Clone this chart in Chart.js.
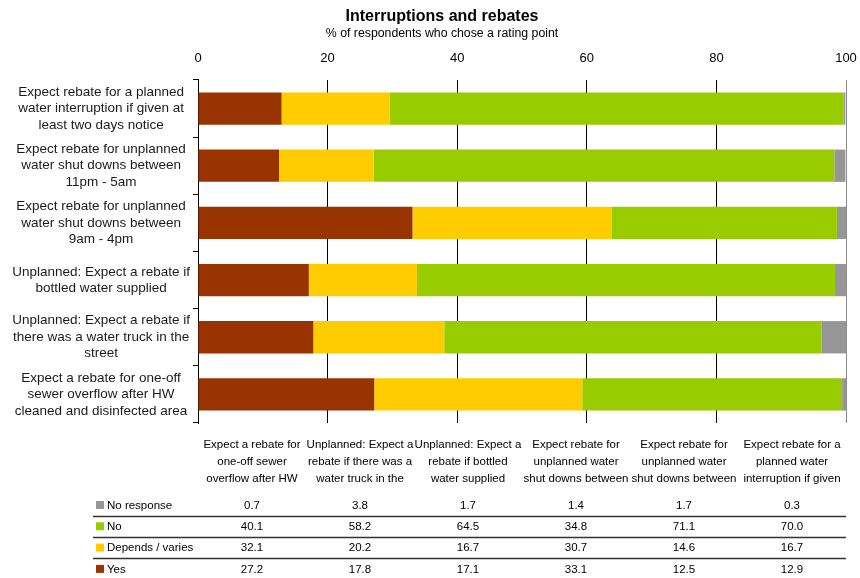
<!DOCTYPE html>
<html><head><meta charset="utf-8">
<script src="https://cdn.jsdelivr.net/npm/chart.js@4.4.1/dist/chart.umd.min.js"></script>
<style>html,body{margin:0;padding:0;background:#fff}#wrap{width:860px;height:578px;position:relative}</style>
</head><body><div id="wrap"><canvas id="c" width="860" height="578"></canvas></div>
<script>
// Categories (table / data order; the y axis is reversed so the first one sits at the bottom)
const categories = [
  ['Expect a rebate for one-off', 'sewer overflow after HW', 'cleaned and disinfected area'],
  ['Unplanned: Expect a rebate if', 'there was a water truck in the', 'street'],
  ['Unplanned: Expect a rebate if', 'bottled water supplied'],
  ['Expect rebate for unplanned', 'water shut downs between', '9am - 4pm'],
  ['Expect rebate for unplanned', 'water shut downs between', '11pm - 5am'],
  ['Expect rebate for a planned', 'water interruption if given at', 'least two days notice']
];
// Column headers of the data table (truncated to three lines as in the original)
const tableHeaders = [
  ['Expect a rebate for', 'one-off sewer', 'overflow after HW'],
  ['Unplanned: Expect a', 'rebate if there was a', 'water truck in the'],
  ['Unplanned: Expect a', 'rebate if bottled', 'water supplied'],
  ['Expect rebate for', 'unplanned water', 'shut downs between'],
  ['Expect rebate for', 'unplanned water', 'shut downs between'],
  ['Expect rebate for a', 'planned water', 'interruption if given']
];
const yesValues        = [27.2, 17.8, 17.1, 33.1, 12.5, 12.9];
const dependsValues    = [32.1, 20.2, 16.7, 30.7, 14.6, 16.7];
const noValues         = [40.1, 58.2, 64.5, 34.8, 71.1, 70.0];
const noResponseValues = [0.7, 3.8, 1.7, 1.4, 1.7, 0.3];
const seriesNames = ['Yes', 'Depends / varies', 'No', 'No response'];
const xTickValues = [0, 20, 40, 60, 80, 100];

const FONT = "'Liberation Sans', Arial, sans-serif";
const COLORS = ['#993300', '#FFCC00', '#99CC00', '#969696'];

// shift the title / subtitle blocks slightly right, as in the original
const titleShift = {
  id: 'titleShift',
  afterLayout(chart) {
    chart.boxes.forEach(b => {
      if (b.options && typeof b.options.text === 'string' && b.isHorizontal && b.isHorizontal()) {
        b.left += 27;
      }
    });
  }
};

const tablePlugin = {
  id: 'dataTable',
  afterDraw(chart) {
    const c = chart.ctx, a = chart.chartArea;
    const n = chart.data.labels.length;
    const colW = (a.right - a.left) / n;
    c.save();
    c.fillStyle = '#000';
    c.font = '11.5px ' + FONT;
    c.textAlign = 'center';
    c.textBaseline = 'middle';
    tableHeaders.forEach((lines, i) => {
      const x = a.left + (i + 0.5) * colW;
      lines.forEach((t, j) => c.fillText(t, x, a.bottom + 22 + j * 17));
    });
    const rows = chart.data.datasets.map((d, i) => ({ d, i })).reverse();
    const rowTop = a.bottom + 82, pitch = 21.3;
    rows.forEach((r, k) => {
      const y = rowTop + k * pitch;
      c.fillStyle = r.d.backgroundColor;
      c.fillRect(96, y - 4, 8, 8);
      c.fillStyle = '#000';
      c.textAlign = 'left';
      c.fillText(r.d.label, 107, y + 0.5);
      c.textAlign = 'center';
      r.d.data.forEach((v, i) => {
        c.fillText(v.toFixed(1), a.left + (i + 0.5) * colW, y + 0.5);
      });
      if (k < rows.length - 1) {
        const ly = Math.round(y + pitch / 2) + 0.5;
        c.strokeStyle = '#333';
        c.lineWidth = 1.5;
        c.beginPath();
        c.moveTo(93, ly);
        c.lineTo(a.right, ly);
        c.stroke();
      }
    });
    c.restore();
  }
};

new Chart(document.getElementById('c').getContext('2d'), {
  type: 'bar',
  data: {
    labels: categories,
    datasets: [
      { label: seriesNames[0], data: yesValues, backgroundColor: COLORS[0] },
      { label: seriesNames[1], data: dependsValues, backgroundColor: COLORS[1] },
      { label: seriesNames[2], data: noValues, backgroundColor: COLORS[2] },
      { label: seriesNames[3], data: noResponseValues, backgroundColor: COLORS[3] }
    ]
  },
  options: {
    indexAxis: 'y',
    responsive: false,
    animation: false,
    datasets: { bar: { barPercentage: 1, categoryPercentage: 0.565, borderWidth: 0 } },
    layout: { padding: { left: 0, right: 3, top: 0, bottom: 155 } },
    plugins: {
      legend: { display: false },
      tooltip: { enabled: false },
      title: {
        display: true, text: 'Interruptions and rebates', color: '#000',
        font: { family: FONT, size: 16, weight: 'bold' }, padding: { top: 7, bottom: 0 }
      },
      subtitle: {
        display: true, text: '% of respondents who chose a rating point', color: '#000',
        font: { family: FONT, size: 12.3 }, padding: { top: 0, bottom: 8 }
      }
    },
    scales: {
      x: {
        position: 'top', stacked: true, min: 0, max: 100,
        afterBuildTicks: s => { s.ticks = xTickValues.map(v => ({ value: v })); },
        grid: {
          drawTicks: false, lineWidth: 1,
          color: ctx => (ctx.tick && ctx.tick.value === 100) ? '#8c8c8c' : '#000'
        },
        border: { display: false },
        ticks: { font: { family: FONT, size: 13 }, color: '#000', padding: 14 },
        afterFit: s => { s.height = 31; s.paddingRight = 14; s.paddingLeft = 0; }
      },
      y: {
        stacked: true, reverse: true,
        grid: { drawOnChartArea: false, drawTicks: true, tickLength: 5, color: '#000', offset: true },
        border: { display: true, color: '#000', width: 1 },
        ticks: {
          font: { family: FONT, size: 13.5, lineHeight: 1.22 }, color: '#1a1a1a',
          crossAlign: 'center', padding: 3, autoSkip: false
        },
        afterFit: s => { s.width = 198; }
      }
    }
  },
  plugins: [titleShift, tablePlugin]
});
</script>
</body></html>
